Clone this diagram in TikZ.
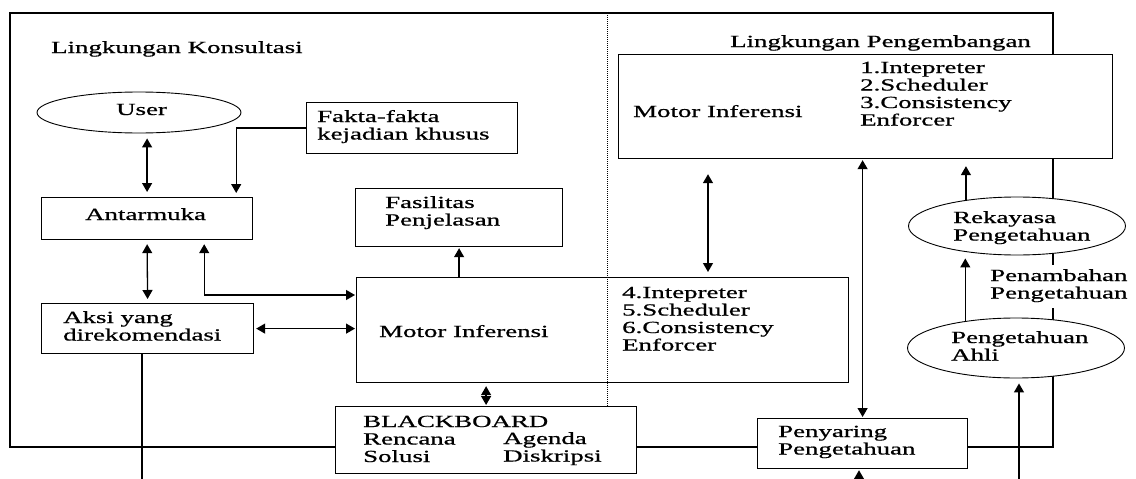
\documentclass[tikz,border=0pt]{standalone}
\usepackage{fontspec}
\setmainfont{Liberation Serif}[FakeBold=0.6]
\usepackage{graphicx}
\usetikzlibrary{arrows.meta,shapes.geometric}
\newcommand\wtext[1]{\scalebox{1.58}[1]{\begin{tabular}[t]{@{}l@{}}#1\end{tabular}}}
\begin{document}
\begin{tikzpicture}[x=1pt,y=-1pt,
  box/.style={draw, line width=1.2pt, fill=white, inner sep=0, anchor=north west},
  oval/.style={draw, ellipse, line width=0.9pt, fill=white, inner sep=0},
  txt/.style={anchor=base west, inner sep=0, font=\fontsize{17}{17.5}\selectfont},
  link/.style={line width=1.3pt},
  dbl/.style={link, {Triangle[length=9pt,width=10pt]}-{Triangle[length=9pt,width=10pt]}},
  one/.style={link, -{Triangle[length=9pt,width=10pt]}}]
\useasboundingbox (0,0) rectangle (1136,479);
% frame
\draw[line width=1.2pt] (10,13) rectangle (1053,447);
% boxes
\node[oval, minimum width=204pt, minimum height=41pt] (user) at (139,112.5) {};
\node[box, minimum width=211pt, minimum height=51pt] (fakta) at (306,102) {};
\node[box, minimum width=211pt, minimum height=42pt] (ant) at (41,197) {};
\node[box, minimum width=207pt, minimum height=58pt] (fas) at (355,188) {};
\node[box, minimum width=212pt, minimum height=50pt] (aksi) at (41,303) {};
\node[box, minimum width=492pt, minimum height=105pt] (mot2) at (356,277) {};
\node[box, minimum width=301pt, minimum height=67pt] (bb) at (335,406) {};
\node[box, minimum width=494pt, minimum height=104pt] (mot1) at (618,54) {};
\node[oval, minimum width=217pt, minimum height=58pt] (rek) at (1017,226) {};
\node[oval, minimum width=217pt, minimum height=60pt] (ahli) at (1016,348) {};
\node[box, minimum width=210pt, minimum height=50pt] (peny) at (757,418) {};
% dotted divider
\draw[line width=0.9pt, dash pattern=on 1pt off 1pt] (607,13) -- (bb.north -| 607,0);
% texts
\node[txt] (t1) at (51,53) {\wtext{Lingkungan Konsultasi}};
\node[txt] (t2) at (730,47) {\wtext{Lingkungan Pengembangan}};
\node[txt] (t3) at (116,115) {\wtext{User}};
\node[txt] (t4) at (317,122) {\wtext{Fakta-fakta\\kejadian khusus}};
\node[txt] (t5) at (85,220) {\wtext{Antarmuka}};
\node[txt] (t6) at (385,208) {\wtext{Fasilitas\\Penjelasan}};
\node[txt] (t7) at (63,323) {\wtext{Aksi yang\\direkomendasi}};
\node[txt] (t8) at (379,337) {\wtext{Motor Inferensi}};
\node[txt] (t9) at (622,298) {\wtext{4.Intepreter\\5.Scheduler\\6.Consistency\\Enforcer}};
\node[txt] (t10) at (363,427) {\wtext{BLACKBOARD\\Rencana\\Solusi}};
\node[txt] (t11) at (503,444) {\wtext{Agenda\\Diskripsi}};
\node[txt] (t12) at (633,117) {\wtext{Motor Inferensi}};
\node[txt] (t13) at (860,73) {\wtext{1.Intepreter\\2.Scheduler\\3.Consistency\\Enforcer}};
\node[txt] (t14) at (953,223) {\wtext{Rekayasa\\Pengetahuan}};
\node[txt, fill=white, inner ysep=4pt] (t15) at (990,281) {\wtext{Penambahan\\Pengetahuan}};
\node[txt] (t16) at (951,343) {\wtext{Pengetahuan\\Ahli}};
\node[txt] (t17) at (778,437) {\wtext{Penyaring\\Pengetahuan}};
% free ends
\coordinate (b1) at (1019,479);
\coordinate (b2) at (859,479);
\coordinate (b3) at (142,479);
% connectors
\draw[dbl, shorten <=5pt, shorten >=5pt] (user.south -| ant.north) -- (ant.north);
\draw[one, shorten >=4pt] (fakta.west) -| ([xshift=-17pt]ant.north east);
\draw[dbl, shorten <=4pt, shorten >=4pt] (ant.south) -- (aksi.north);
\draw[dbl, shorten <=4pt, shorten >=1pt] ([xshift=-49pt]ant.south east) |- ([yshift=-18pt]mot2.north west);
\draw[dbl, shorten <=2pt, shorten >=1pt] (aksi.east) -- (aksi.east -| mot2.west);
\draw[one, shorten >=1pt] (fas.south |- mot2.north) -- (fas.south);
\draw[dbl, shorten <=3pt, shorten >=1pt] (bb.north |- mot2.south) -- (bb.north);
\draw[dbl, shorten <=15pt, shorten >=5pt] ([xshift=90pt]mot1.south west) -- ([xshift=90pt]mot1.south west |- mot2.north);
\draw[dbl, shorten <=1pt, shorten >=1pt] (peny.north |- mot1.south) -- (peny.north);
\draw[one, shorten >=7pt] (rek.153) -- (rek.153 |- mot1.south);
\draw[one, shorten >=3pt] (ahli.152) -- (ahli.152 |- rek.south);
\draw[one, shorten >=5pt] (b1) -- (b1 |- ahli.south);
\draw[one, shorten >=1pt] (b2) -- (b2 |- peny.south);
\draw[link] (b3 |- aksi.south) -- (b3);
\end{tikzpicture}
\end{document}
